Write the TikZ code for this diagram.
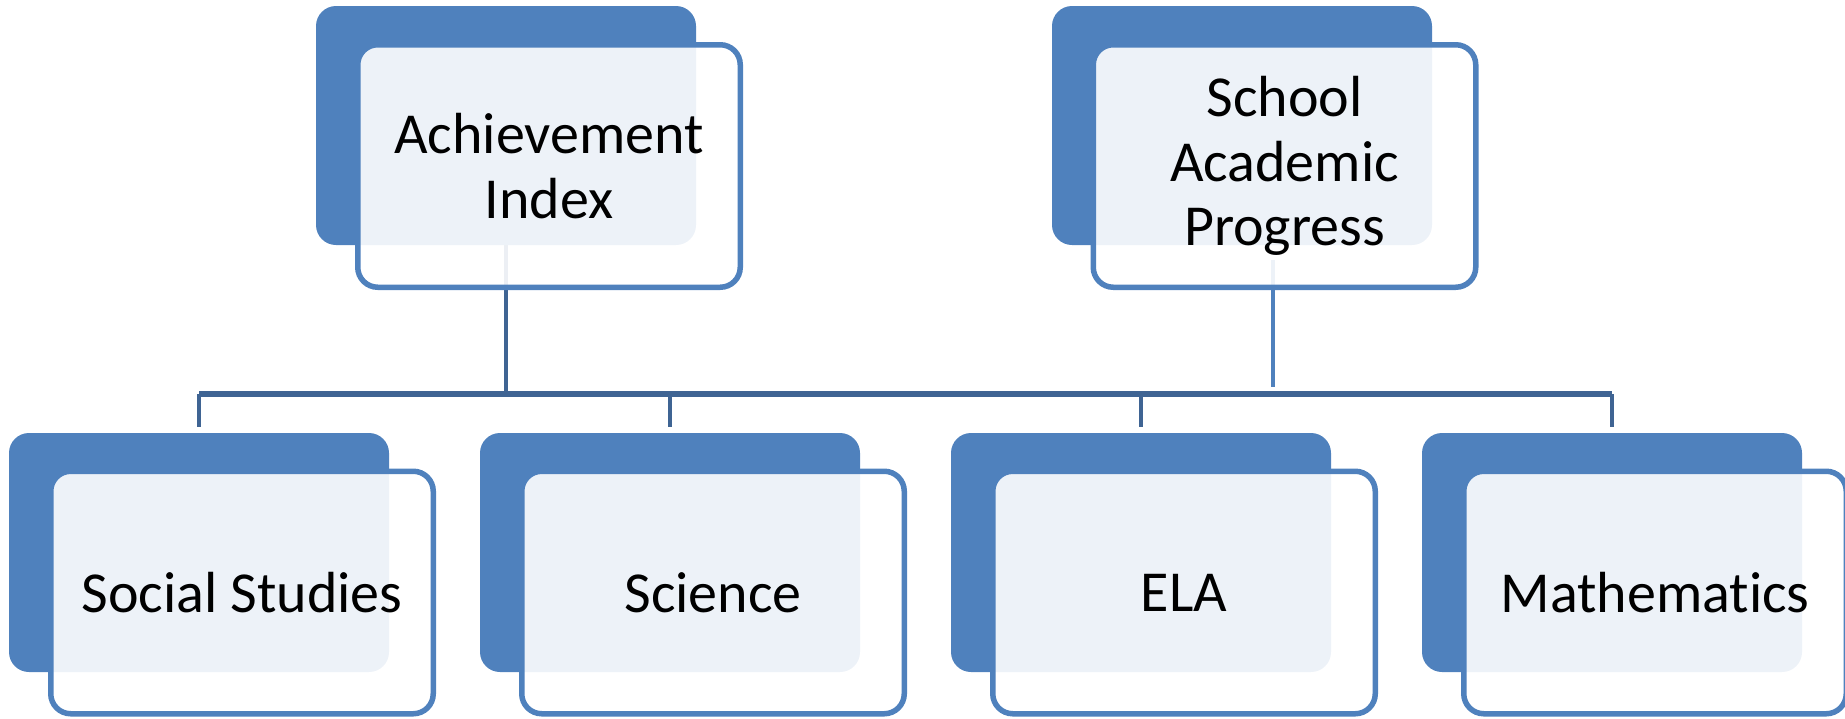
\documentclass[tikz,border=0pt]{standalone}
\usepackage{fontspec}
\setmainfont[Ligatures=NoCommon]{Carlito}
\usetikzlibrary{backgrounds}
\definecolor{boxblue}{RGB}{79,129,189}
\definecolor{linkblue}{RGB}{63,100,147}
\begin{document}
\begin{tikzpicture}[x=0.5pt,y=-0.5pt,
	back/.style={fill=boxblue,rounded corners=10pt,minimum width=190pt,minimum height=119.5pt,inner sep=0pt},
	front/.style={draw=boxblue,line width=2.75pt,fill=white,fill opacity=0.9,text opacity=1,rounded corners=10pt,minimum width=191.25pt,minimum height=121.25pt,inner sep=0pt,align=center,font=\fontsize{29}{32.3}\selectfont},
	link/.style={draw=linkblue,line width=2.2pt}]
	\useasboundingbox (0,0) rectangle (1845,718);
	% top row
	\node[back] (bach) at (506,125.5) {};
	\node[front] (ach) at (549,166) {Achievement\\Index};
	\node[back] (bsap) at (1242,125.5) {};
	\node[front] (sap) at (1284.5,166) {School\\Academic\\Progress};
	% bottom row
	\foreach \n/\t [count=\i from 0] in {ss/Social Studies,sci/Science,ela/ELA,math/Mathematics}
	{
		\node[back] (b\n) at (199+471*\i,552.5) {};
		\node[front] (\n) at (242+471*\i,592.5) {\t};
		}
	% connectors
	\begin{scope}[on background layer]
		\coordinate (bus) at (0,394);
		\coordinate (sapend) at (1273,387);
		\draw[link] (bach.south) -- (bach.south |- bus);
		\draw[link,line width=2.6pt] (bss.north |- bus) -- (bmath.north |- bus);
		\foreach \n in {ss,sci,ela,math}
		{
			\draw[link,shorten >=3pt] (b\n.north |- bus) -- (b\n.north);
			}
		\draw[link,draw=boxblue,shorten <=7.5pt] (bsap.south -| sapend) -- (sapend);
	\end{scope}
\end{tikzpicture}
\end{document}
